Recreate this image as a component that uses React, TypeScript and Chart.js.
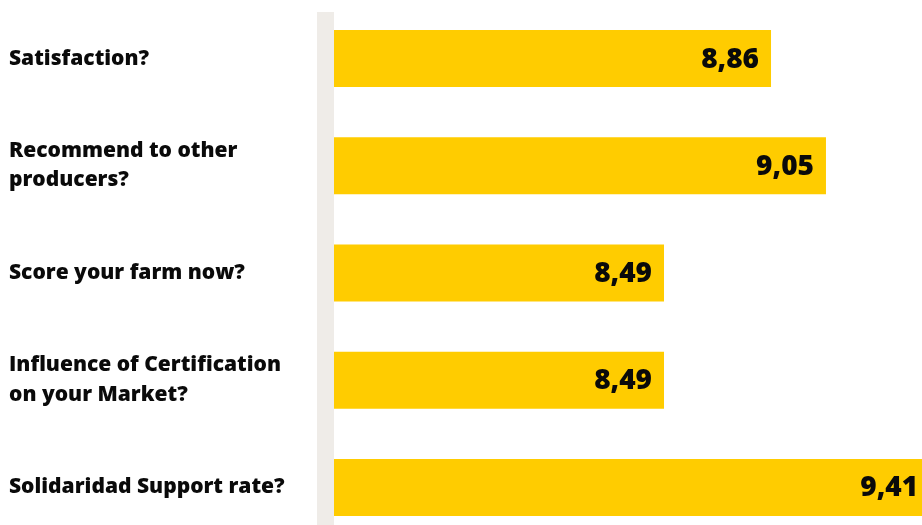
import React, { useEffect, useRef } from "react";
import { Chart, registerables } from "chart.js";

Chart.register(...registerables);

const categories: (string | string[])[] = [
  "Satisfaction?",
  ["Recommend to other", "producers?"],
  "Score your farm now?",
  ["Influence of Certification", "on your Market?"],
  "Solidaridad Support rate?",
];
const scores: number[] = [8.86, 9.05, 8.49, 8.49, 9.41];
const scoreLabels: string[] = ["8,86", "9,05", "8,49", "8,49", "9,41"];

const BAR_COLOR = "#FFCC00";
const STRIP_COLOR = "#EFECE8";
const TEXT_COLOR = "#0a0a0a";
const FONT = "'Open Sans'";

const stripPlugin = {
  id: "strip",
  beforeDatasetsDraw(chart: any) {
    const { ctx, chartArea } = chart;
    ctx.save();
    ctx.fillStyle = STRIP_COLOR;
    ctx.fillRect(chartArea.left - 17, 12, 17, chart.height);
    ctx.restore();
  },
};

const valueLabelPlugin = {
  id: "valueLabels",
  afterDatasetsDraw(chart: any) {
    const { ctx } = chart;
    const meta = chart.getDatasetMeta(0);
    ctx.save();
    ctx.fillStyle = TEXT_COLOR;
    ctx.font = `800 28px ${FONT}`;
    ctx.textAlign = "right";
    ctx.textBaseline = "middle";
    meta.data.forEach((bar: any, i: number) => {
      ctx.fillText(scoreLabels[i], bar.x - 12, bar.y + 1);
    });
    ctx.restore();
  },
};

export default function App() {
  const ref = useRef<HTMLCanvasElement | null>(null);

  useEffect(() => {
    document.body.style.margin = "0";
    document.body.style.overflow = "hidden";
    const chart = new Chart(ref.current as HTMLCanvasElement, {
      type: "bar",
      data: {
        labels: categories,
        datasets: [
          {
            data: scores,
            backgroundColor: BAR_COLOR,
            borderWidth: 0,
            barPercentage: 0.532,
            categoryPercentage: 1,
          },
        ],
      },
      options: {
        indexAxis: "y",
        animation: false,
        responsive: false,
        maintainAspectRatio: false,
        layout: { padding: { left: 9, top: 5, right: 0, bottom: 0 } },
        plugins: {
          legend: { display: false },
          tooltip: { enabled: false },
        },
        scales: {
          x: {
            display: false,
            min: 7.349,
            max: 9.382,
          },
          y: {
            grid: { display: false },
            border: { display: false },
            ticks: {
              crossAlign: "far",
              color: TEXT_COLOR,
              font: { family: FONT, size: 21, weight: "800", lineHeight: 1.4 },
            },
            afterFit(scale: any) {
              scale.width = 325;
              scale.paddingTop = 0;
              scale.paddingBottom = 0;
            },
          },
        },
      },
      plugins: [stripPlugin, valueLabelPlugin],
    } as any);
    return () => chart.destroy();
  }, []);

  return (
    <div style={{ position: "fixed", left: 0, top: 0, width: 922, height: 541 }}>
      <canvas ref={ref} width={922} height={541} style={{ display: "block" }} />
    </div>
  );
}
